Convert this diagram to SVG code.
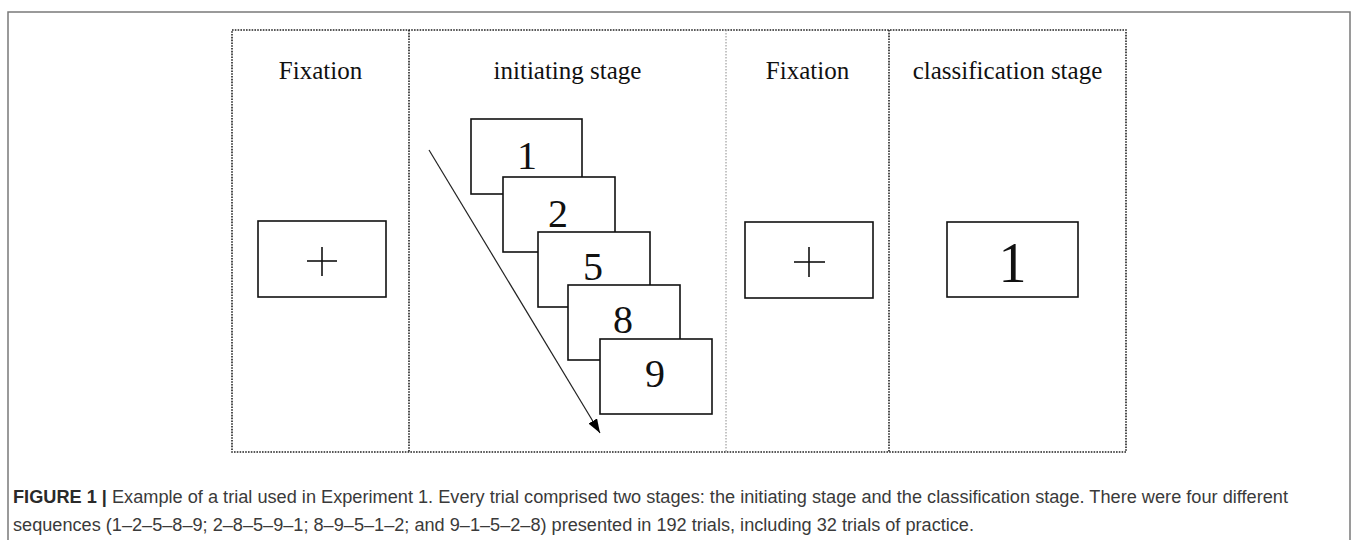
<svg xmlns="http://www.w3.org/2000/svg" width="1357" height="540" viewBox="0 0 1357 540">
<style>
.frame{fill:none;stroke:#7a7a7a;stroke-width:1.5}
.dot{fill:none;stroke:#222;stroke-width:1.6;stroke-dasharray:1.6 1.2}
.dotlight{fill:none;stroke:#8a8a8a;stroke-width:1;stroke-dasharray:1.5 1.5}
.card{fill:#fff;stroke:#111;stroke-width:1.6}
.hdr{font-family:"Liberation Serif","Times New Roman",serif;font-size:25px;fill:#111;text-anchor:middle}
.num{font-family:"Liberation Serif","Times New Roman",serif;font-size:40px;fill:#111;text-anchor:middle}
.big{font-family:"Liberation Serif","Times New Roman",serif;font-size:56px;fill:#111;text-anchor:middle}
.plus{stroke:#111;stroke-width:1.6}
.cap{font-family:"Liberation Sans",Arial,sans-serif;font-size:17.5px;fill:#3a3a3a}
.capb{font-weight:bold;fill:#2a2a2a}
</style>
<defs>
<marker id="ah" viewBox="0 0 14 10" refX="14" refY="5" markerWidth="14" markerHeight="10" markerUnits="userSpaceOnUse" orient="auto">
<path d="M0,0 L14,5 L0,10 z" fill="#000"/>
</marker>
</defs>
<rect width="1357" height="540" fill="#fff"/>
<path class="frame" d="M8,545 L8,12 L1350,12 L1350,545"/>
<g id="panel">
<rect class="dot" x="232" y="30" width="894" height="422"/>
<line class="dot" x1="409" y1="30" x2="409" y2="452"/>
<line class="dotlight" x1="726" y1="30" x2="726" y2="452"/>
<line class="dot" x1="889" y1="30" x2="889" y2="452"/>
</g>
<g id="hdr-fixation1"><text class="hdr" x="320.5" y="79">Fixation</text></g>
<g id="hdr-initiating"><text class="hdr" x="567.5" y="79">initiating stage</text></g>
<g id="hdr-fixation2"><text class="hdr" x="807.5" y="79">Fixation</text></g>
<g id="hdr-classification"><text class="hdr" x="1007.5" y="79">classification stage</text></g>
<g id="fixation1">
<rect class="card" x="258" y="221" width="128" height="76"/>
<line class="plus" x1="307" y1="261" x2="337" y2="261"/>
<line class="plus" x1="322" y1="247" x2="322" y2="276"/>
</g>
<g id="card1"><rect class="card" x="471" y="119" width="111" height="75"/><text class="num" x="527" y="169">1</text></g>
<g id="card2"><rect class="card" x="503" y="177" width="112" height="75"/><text class="num" x="558" y="227">2</text></g>
<g id="card3"><rect class="card" x="538" y="232" width="112" height="75"/><text class="num" x="593" y="280">5</text></g>
<g id="card4"><rect class="card" x="568" y="285" width="112" height="75"/><text class="num" x="623" y="333">8</text></g>
<g id="card5"><rect class="card" x="600" y="339" width="112" height="75"/><text class="num" x="655" y="387">9</text></g>
<g id="connectors">
<line x1="429" y1="150" x2="600" y2="433" stroke="#222" stroke-width="1.2" marker-end="url(#ah)"/>
</g>
<g id="fixation2">
<rect class="card" x="745" y="222" width="128" height="76"/>
<line class="plus" x1="794" y1="262" x2="825" y2="262"/>
<line class="plus" x1="809" y1="247" x2="809" y2="277"/>
</g>
<g id="classification">
<rect class="card" x="947" y="222" width="131" height="75"/>
<text class="big" x="1012.5" y="282">1</text>
</g>
<g id="caption">
<text class="cap" x="13" y="503" textLength="1275" lengthAdjust="spacingAndGlyphs"><tspan class="capb">FIGURE 1 |</tspan> Example of a trial used in Experiment 1. Every trial comprised two stages: the initiating stage and the classification stage. There were four different</text>
<text class="cap" x="13" y="531" textLength="961" lengthAdjust="spacingAndGlyphs">sequences (1–2–5–8–9; 2–8–5–9–1; 8–9–5–1–2; and 9–1–5–2–8) presented in 192 trials, including 32 trials of practice.</text>
</g>
</svg>
